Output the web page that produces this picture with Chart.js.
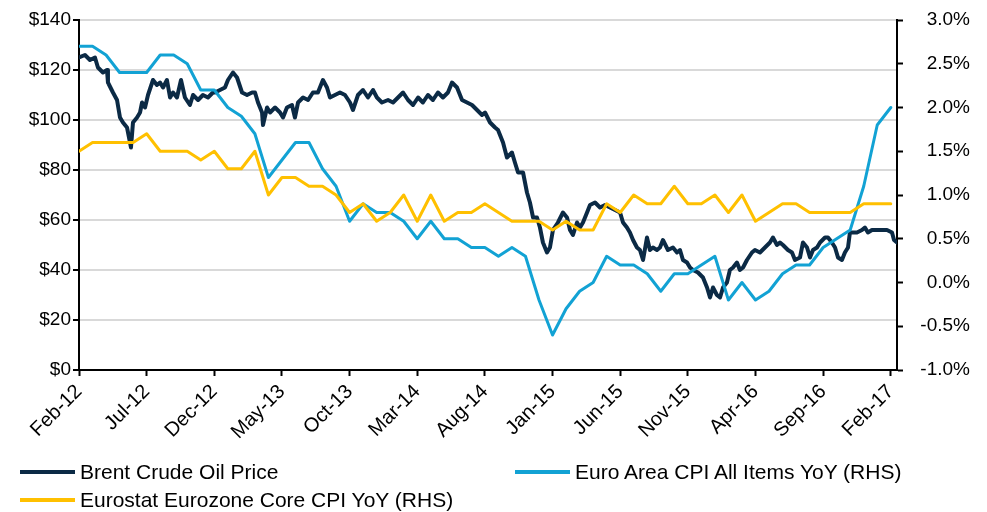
<!DOCTYPE html>
<html>
<head>
<meta charset="utf-8">
<script src="https://cdn.jsdelivr.net/npm/chart.js@4"></script>
<style>
    body { margin: 0; background: #fff; }
    .wrap { position: relative; width: 987px; height: 512px; }
    #legend { position: absolute; left: 0; top: 0; font-family: "Liberation Sans", Arial, sans-serif; font-size: 21px; color: #000; }
    .item { position: absolute; white-space: nowrap; line-height: 24px; }
    .item span.line { position: absolute; left: 0; top: 10px; width: 55px; height: 4px; }
    .item span.txt { position: absolute; left: 60px; top: 0; }
</style>
</head>
<body>
<div class="wrap">
    <canvas id="myChart" width="987" height="512"></canvas>
    <div id="legend"></div>
</div>
<script>
// x tick labels, one every 5 months starting Feb-12
const tickLabels = ["Feb-12", "Jul-12", "Dec-12", "May-13", "Oct-13", "Mar-14", "Aug-14", "Jan-15", "Jun-15", "Nov-15", "Apr-16", "Sep-16", "Feb-17"];

// Monthly series, Feb-12 .. Feb-17 (61 months)
const cpiAll = [
    2.7, 2.7, 2.6, 2.4, 2.4, 2.4, 2.6, 2.6, 2.5, 2.2, 2.2,
    2.0, 1.9, 1.7, 1.2, 1.4, 1.6, 1.6, 1.3, 1.1, 0.7, 0.9, 0.8,
    0.8, 0.7, 0.5, 0.7, 0.5, 0.5, 0.4, 0.4, 0.3, 0.4, 0.3, -0.2,
    -0.6, -0.3, -0.1, 0.0, 0.3, 0.2, 0.2, 0.1, -0.1, 0.1, 0.1, 0.2,
    0.3, -0.2, 0.0, -0.2, -0.1, 0.1, 0.2, 0.2, 0.4, 0.5, 0.6, 1.1,
    1.8, 2.0
];
const cpiCore = [
    1.5, 1.6, 1.6, 1.6, 1.6, 1.7, 1.5, 1.5, 1.5, 1.4, 1.5,
    1.3, 1.3, 1.5, 1.0, 1.2, 1.2, 1.1, 1.1, 1.0, 0.8, 0.9, 0.7,
    0.8, 1.0, 0.7, 1.0, 0.7, 0.8, 0.8, 0.9, 0.8, 0.7, 0.7, 0.7,
    0.6, 0.7, 0.6, 0.6, 0.9, 0.8, 1.0, 0.9, 0.9, 1.1, 0.9, 0.9,
    1.0, 0.8, 1.0, 0.7, 0.8, 0.9, 0.9, 0.8, 0.8, 0.8, 0.8, 0.9,
    0.9, 0.9
];

// Brent: months since Feb-12 (fractional) and price in $
const brentMonth = [
    0.00, 0.44, 0.81, 1.18, 1.40, 1.77, 2.07, 2.14, 2.51, 2.81, 3.03, 3.25, 3.55, 3.77, 3.84, 3.99,
    4.29, 4.51, 4.66, 4.88, 5.10, 5.47, 5.76, 5.99, 6.21, 6.50, 6.73, 6.95, 7.24, 7.54, 7.83, 8.20,
    8.43, 8.80, 9.16, 9.53, 9.90, 10.05, 10.42, 10.79, 11.01, 11.38, 11.68, 12.05, 12.42, 12.79, 13.01, 13.23,
    13.53, 13.60, 13.90, 14.12, 14.49, 14.86, 15.08, 15.37, 15.74, 15.96, 16.19, 16.56, 16.93, 17.29, 17.66, 18.03,
    18.33, 18.55, 18.92, 19.29, 19.66, 20.03, 20.25, 20.62, 20.99, 21.36, 21.73, 22.02, 22.39, 22.84, 23.21, 23.58,
    23.95, 24.32, 24.69, 25.06, 25.42, 25.79, 26.16, 26.53, 26.90, 27.27, 27.57, 27.94, 28.31, 28.68, 29.05, 29.42,
    29.79, 30.01, 30.38, 30.75, 30.97, 31.34, 31.63, 32.00, 32.22, 32.45, 32.82, 33.11, 33.33, 33.56, 33.85, 34.07,
    34.29, 34.59, 34.81, 35.03, 35.40, 35.77, 36.07, 36.29, 36.51, 36.81, 37.03, 37.25, 37.55, 37.77, 38.14, 38.51,
    38.88, 39.25, 39.62, 39.99, 40.21, 40.50, 40.72, 40.95, 41.24, 41.46, 41.69, 41.98, 42.20, 42.42, 42.72, 42.94,
    43.16, 43.53, 43.90, 44.20, 44.42, 44.64, 44.94, 45.16, 45.38, 45.75, 46.12, 46.42, 46.64, 46.86, 47.15, 47.38,
    47.60, 47.89, 48.11, 48.34, 48.63, 48.85, 49.08, 49.37, 49.74, 49.96, 50.33, 50.70, 51.07, 51.29, 51.59, 51.81,
    52.03, 52.40, 52.70, 52.92, 53.29, 53.51, 53.81, 54.03, 54.25, 54.55, 54.77, 55.14, 55.36, 55.65, 55.88, 56.10,
    56.39, 56.61, 56.84, 56.98, 57.21, 57.50, 57.87, 58.09, 58.31, 58.61, 58.98, 59.35, 59.72, 60.09, 60.24, 60.46
];
const brentPrice = [
    125, 126, 124, 125, 121, 119, 120, 115, 111, 108, 101, 99, 97, 91, 89, 99,
    101, 103, 107, 105, 110, 116, 114, 115, 113, 116, 109, 111, 109, 116, 109, 106,
    110, 108, 110, 109, 111, 111, 112, 113, 116, 119, 117, 111, 110, 111, 111, 107,
    103, 98, 105, 103, 105, 103, 101, 105, 106, 101, 107, 109, 108, 111, 111, 116,
    113, 109, 110, 111, 110, 107, 104, 110, 112, 109, 112, 109, 107, 108, 107, 109,
    111, 108, 106, 109, 107, 110, 108, 111, 109, 111, 115, 113, 108, 107, 106, 104,
    102, 103, 99, 97, 96, 91, 85, 87, 83, 79, 79, 71, 67, 61, 61, 57,
    51, 47, 49, 56, 59, 63, 61, 56, 54, 59, 57, 59, 63, 66, 67, 65,
    66, 65, 64, 63, 59, 57, 55, 52, 49, 48, 44, 53, 48, 49, 48, 49,
    52, 48, 49, 47, 48, 44, 43, 41, 40, 39, 37, 33, 29, 33, 30, 29,
    33, 35, 40, 41, 43, 40, 41, 44, 47, 48, 47, 49, 51, 53, 50, 51,
    50, 48, 47, 44, 45, 51, 49, 45, 48, 49, 51, 53, 53, 51, 49, 45,
    44, 47, 49, 55, 55, 55, 56, 57, 55, 56, 56, 56, 56, 55, 52, 51
];

const FONT = "'Liberation Sans', Arial, sans-serif";

const brentData = brentMonth.map((m, i) => ({ x: m, y: brentPrice[i] }));
const allData = cpiAll.map((v, i) => ({ x: i, y: v }));
const coreData = cpiCore.map((v, i) => ({ x: i, y: v }));

const datasets = [{
    label: 'Brent Crude Oil Price',
    data: brentData,
    yAxisID: 'y',
    borderColor: '#0b2a45',
    borderWidth: 4,
    order: 3
}, {
    label: 'Euro Area CPI All Items YoY (RHS)',
    data: allData,
    yAxisID: 'y2',
    borderColor: '#12a2d4',
    borderWidth: 3,
    order: 2
}, {
    label: 'Eurostat Eurozone Core CPI YoY (RHS)',
    data: coreData,
    yAxisID: 'y2',
    borderColor: '#ffc000',
    borderWidth: 3,
    order: 1
}];

const ctx = document.getElementById('myChart').getContext('2d');
const myChart = new Chart(ctx, {
    type: 'line',
    data: { datasets: datasets },
    options: {
        responsive: false,
        animation: false,
        elements: {
            point: { radius: 0 },
            line: { tension: 0, borderJoinStyle: 'round', borderCapStyle: 'round' }
        },
        layout: { padding: { top: 20, right: 17, left: 0, bottom: 0 } },
        plugins: {
            legend: { display: false },
            tooltip: { enabled: false }
        },
        scales: {
            x: {
                type: 'linear',
                min: 0,
                max: 60.46,
                afterFit: s => { s.height = 142; },
                grid: { drawOnChartArea: false, tickLength: 6, tickColor: '#000', tickWidth: 2 },
                border: { color: '#000', width: 2 },
                ticks: {
                    stepSize: 5,
                    includeBounds: false,
                    autoSkip: false,
                    maxRotation: 45,
                    minRotation: 45,
                    padding: 4,
                    color: '#000',
                    font: { family: FONT, size: 20 },
                    callback: v => tickLabels[v / 5]
                }
            },
            y: {
                position: 'left',
                min: 0,
                max: 140,
                afterFit: s => { s.width = 79; },
                grid: { color: '#d9d9d9', lineWidth: 2, tickLength: 6, tickColor: '#000', tickWidth: 2 },
                border: { color: '#000', width: 2 },
                ticks: {
                    stepSize: 20,
                    padding: 2,
                    color: '#000',
                    font: { family: FONT, size: 19 },
                    callback: v => '$' + v
                }
            },
            y2: {
                position: 'right',
                min: -1,
                max: 3,
                afterFit: s => { s.width = 73; },
                grid: { drawOnChartArea: false, tickLength: 6, tickColor: '#000', tickWidth: 2 },
                border: { color: '#000', width: 2 },
                ticks: {
                    stepSize: 0.5,
                    crossAlign: 'far',
                    color: '#000',
                    font: { family: FONT, size: 19 },
                    callback: v => v.toFixed(1) + '%'
                }
            }
        }
    }
});

// Legend laid out like the original: two columns, two rows
const legendPos = [[20, 460], [515, 460], [20, 488]];
const legend = document.getElementById('legend');
datasets.forEach((ds, i) => {
    const item = document.createElement('div');
    item.className = 'item';
    item.style.left = legendPos[i][0] + 'px';
    item.style.top = legendPos[i][1] + 'px';
    item.innerHTML = `<span class="line" style="background:${ds.borderColor}"></span><span class="txt">${ds.label}</span>`;
    legend.appendChild(item);
});
</script>
</body>
</html>
